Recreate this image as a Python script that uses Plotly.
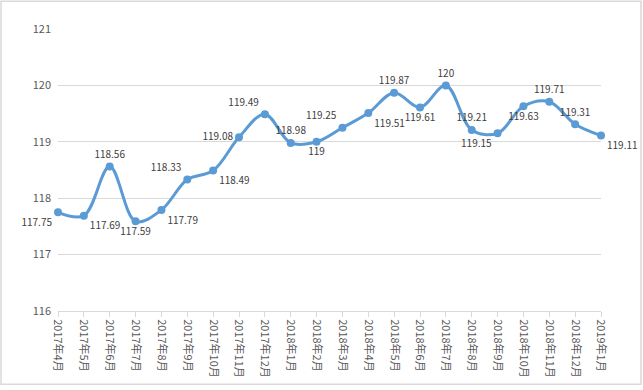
import plotly.graph_objects as go

months = ["2017年4月", "2017年5月", "2017年6月", "2017年7月", "2017年8月", "2017年9月",
          "2017年10月", "2017年11月", "2017年12月", "2018年1月", "2018年2月", "2018年3月",
          "2018年4月", "2018年5月", "2018年6月", "2018年7月", "2018年8月", "2018年9月",
          "2018年10月", "2018年11月", "2018年12月", "2019年1月"]
values = [117.75, 117.69, 118.56, 117.59, 117.79, 118.33, 118.49, 119.08, 119.49, 118.98,
          119, 119.25, 119.51, 119.87, 119.61, 120, 119.21, 119.15, 119.63, 119.71, 119.31, 119.11]
label_pos = ["bottom left", "bottom right", "top center", "bottom center", "bottom right",
             "top left", "bottom right", "middle left", "top left", "top center",
             "bottom center", "top left", "bottom right", "top center", "bottom center",
             "top center", "top center", "bottom left", "bottom center", "top center",
             "top center", "bottom right"]
y_ticks = [116, 117, 118, 119, 120, 121]

W, H = 643, 390
L, R, T, B = 58, 42, 29, 76
pw, ph = W - L - R, H - T - B

fig = go.Figure()
fig.add_trace(go.Scatter(
    x=months, y=values, mode="lines+markers+text",
    line=dict(color="#5B9BD5", width=3, shape="spline", smoothing=1.0),
    marker=dict(color="#5B9BD5", size=8),
    text=[f"{v:g}" for v in values], textposition=label_pos,
    textfont=dict(family="Noto Sans CJK SC, Noto Sans", size=10, color="#404040"),
    cliponaxis=False, hoverinfo="skip",
))

fig.update_layout(
    width=W, height=H, margin=dict(l=L, r=R, t=T, b=B),
    paper_bgcolor="white", plot_bgcolor="white", showlegend=False,
    font=dict(family="Noto Sans CJK SC, Noto Sans", size=11, color="#595959"),
    hovermode=False,
    shapes=[dict(type="rect", xref="paper", yref="paper",
                 x0=(1 - L) / pw, x1=(W - 2 - L) / pw,
                 y0=(H - B - (H - 2)) / ph, y1=(H - B - 1) / ph,
                 line=dict(color="#D9D9D9", width=1.5))],
)
fig.update_xaxes(type="category", range=[0, len(months) - 1], showgrid=False,
                 showline=True, linecolor="#D9D9D9", linewidth=1,
                 ticks="outside", ticklen=5, tickcolor="#D9D9D9",
                 tickangle=90, tickfont=dict(size=11, color="#595959"))
fig.update_yaxes(range=[116, 121], tickvals=y_ticks, showgrid=True, gridcolor="#D9D9D9",
                 zeroline=False, showline=False, ticks="", ticklabelstandoff=6,
                 tickfont=dict(size=11, color="#595959"))

fig.write_html("out.html", config={"displayModeBar": False},
               post_script="document.body.style.margin='0';document.body.style.overflow='hidden';")
